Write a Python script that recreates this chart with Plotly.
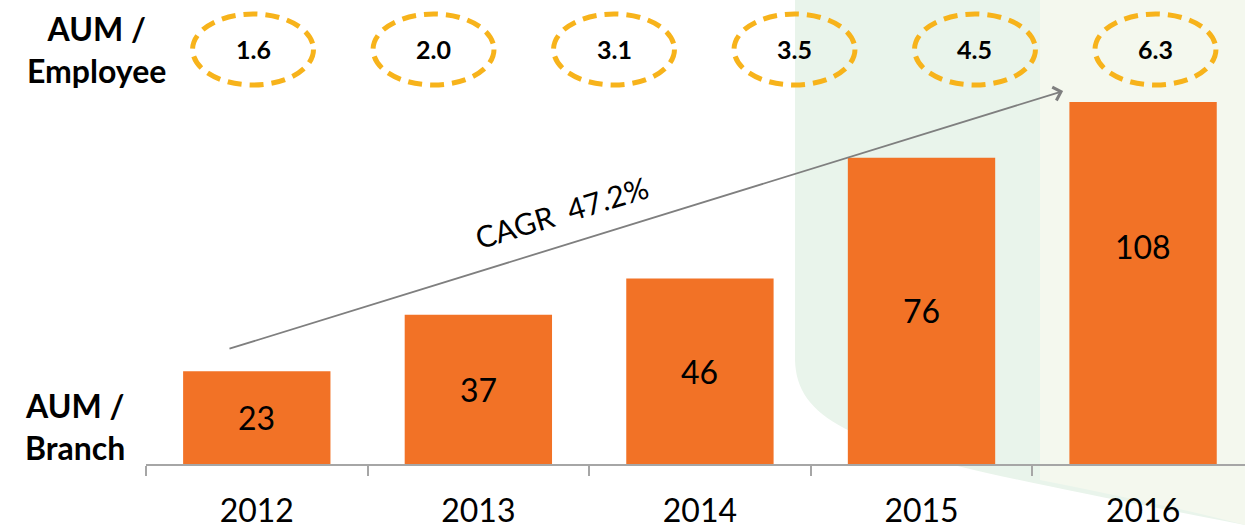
import plotly.graph_objects as go

# ---- data ----
years = ["2012", "2013", "2014", "2015", "2016"]
aum_per_branch = [23, 37, 46, 76, 108]
aum_per_employee = ["1.6", "2.0", "3.1", "3.5", "4.5", "6.3"]
cagr_label = "CAGR  47.2%"

# ---- geometry helpers (pixel -> paper) ----
W, H = 1245, 528
L, R, T, B = 146, 1245, 102, 464
def px(x):
    return (x - L) / (R - L)
def py(y):
    return (B - y) / (B - T)

bar_color = "#F27226"
font_family = "Lato, 'Open Sans', sans-serif"

fig = go.Figure()
fig.add_trace(go.Bar(
    x=years, y=aum_per_branch,
    marker=dict(color=bar_color, line=dict(width=0)),
    width=0.665, hoverinfo="skip", showlegend=False,
))
# invisible trace to anchor x2 axis for the AUM/Employee ovals
fig.add_trace(go.Scatter(
    x=list(range(len(aum_per_employee))), y=[0] * len(aum_per_employee),
    xaxis="x2", mode="markers", marker=dict(opacity=0), hoverinfo="skip",
    showlegend=False,
))

shapes = []
# background mint shape
shapes.append(dict(
    type="path", xref="paper", yref="paper", layer="below",
    path=(f"M {px(795)},{py(-5)} L {px(795)},{py(360)} "
          f"C {px(797)},{py(440)} {px(900)},{py(458)} {px(1245)},{py(525)} "
          f"L {px(1250)},{py(535)} L {px(1250)},{py(-5)} Z"),
    fillcolor="#E9F4EB", line=dict(width=0),
))
shapes.append(dict(
    type="path", xref="paper", yref="paper", layer="below",
    path=(f"M {px(1040)},{py(-5)} L {px(1040)},{py(480)} "
          f"C {px(1110)},{py(494)} {px(1180)},{py(508)} {px(1245)},{py(525)} "
          f"L {px(1250)},{py(535)} L {px(1250)},{py(-5)} Z"),
    fillcolor="#F4F8EE", line=dict(width=0),
))

annotations = []
# ovals + their values
for i, v in enumerate(aum_per_employee):
    shapes.append(dict(
        type="circle", xref="x2", yref="paper",
        x0=i - 0.335, x1=i + 0.335, y0=py(85), y1=py(14),
        line=dict(color="#F7B31B", width=5, dash="14px,8px"),
        fillcolor="rgba(0,0,0,0)",
    ))
    annotations.append(dict(
        x=i, xref="x2", y=py(49), yref="paper", text=f"<b>{v}</b>",
        xanchor="center", yanchor="middle",
        showarrow=False, font=dict(size=25, color="black", family=font_family),
    ))

# bar value labels
for i, v in enumerate(aum_per_branch):
    annotations.append(dict(
        x=i, y=v / 2, xref="x", yref="y", text=str(v), showarrow=False,
        xanchor="center", yanchor="middle",
        font=dict(size=32, color="black", family=font_family),
    ))

# CAGR arrow
annotations.append(dict(
    x=3.639, y=92.5, ax=-0.13, ay=28.5, xref="x", yref="y",
    axref="x", ayref="y", showarrow=True, text="",
    arrowhead=4, arrowsize=1.5, arrowwidth=1.8, arrowcolor="#7F7F7F",
))
annotations.append(dict(
    x=px(561), y=py(212), xref="paper", yref="paper", text=cagr_label,
    showarrow=False, textangle=-17, xanchor="center", yanchor="middle",
    font=dict(size=30, color="black", family=font_family),
))

# side labels
annotations.append(dict(
    x=px(96), y=py(50), xref="paper", yref="paper",
    text="<b>AUM /<br>Employee</b>", showarrow=False, align="center",
    xanchor="center", yanchor="middle",
    font=dict(size=32, color="black", family=font_family),
))
annotations.append(dict(
    x=px(75), y=py(426), xref="paper", yref="paper",
    text="<b>AUM /<br>Branch</b>", showarrow=False, align="center",
    xanchor="center", yanchor="middle",
    font=dict(size=32, color="black", family=font_family),
))

fig.update_layout(
    width=W, height=H,
    margin=dict(l=L, r=W - R, t=T, b=H - B),
    paper_bgcolor="white", plot_bgcolor="rgba(0,0,0,0)",
    shapes=shapes, annotations=annotations,
    xaxis=dict(
        type="category", range=[-0.5, 4.46], showgrid=False, zeroline=False,
        showline=True, linecolor="#A6A6A6", linewidth=2,
        ticks="outside", tickson="boundaries", ticklen=10, tickwidth=2,
        tickcolor="#A6A6A6", ticklabelstandoff=18,
        tickfont=dict(size=32, color="black", family=font_family),
    ),
    xaxis2=dict(
        overlaying="x", range=[-0.593, 5.496], visible=False,
        showgrid=False, zeroline=False,
    ),
    yaxis=dict(range=[0, 89.8], visible=False, showgrid=False, zeroline=False),
    font=dict(family=font_family),
)

fig.write_html(
    "out.html",
    config={"displayModeBar": False},
    post_script="document.body.style.margin='0';document.body.style.overflow='hidden';",
)
